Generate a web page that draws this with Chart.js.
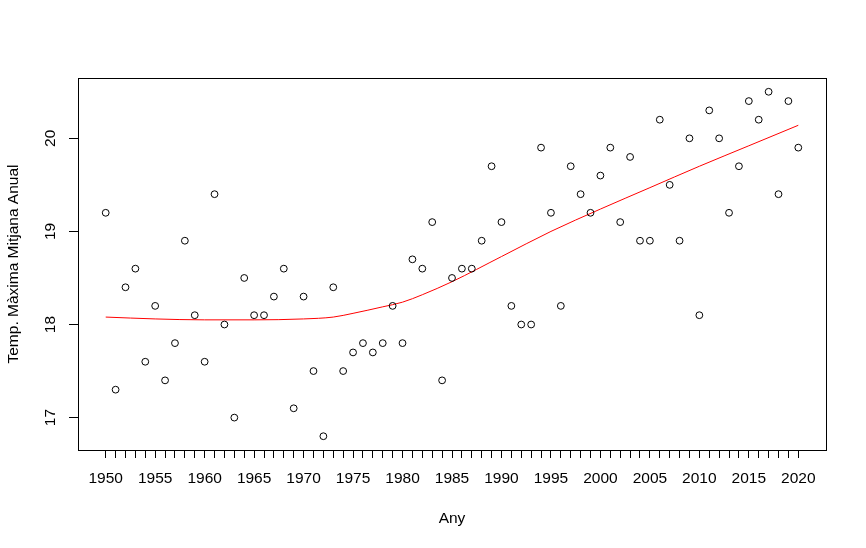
<!DOCTYPE html>
<html>
<head>
<meta charset="utf-8">
<script src="https://cdn.jsdelivr.net/npm/chart.js@4/dist/chart.umd.min.js"></script>
<style>
  html, body { margin: 0; padding: 0; background: #ffffff; }
  #wrap { width: 866px; height: 548px; }
</style>
</head>
<body>
<div id="wrap"><canvas id="c" width="866" height="548"></canvas></div>
<script>
const years = [];
for (let y = 1950; y <= 2020; y++) years.push(y);

const tempMax = [
  19.2, 17.3, 18.4, 18.6, 17.6, 18.2, 17.4, 17.8, 18.9, 18.1,
  17.6, 19.4, 18.0, 17.0, 18.5, 18.1, 18.1, 18.3, 18.6, 17.1,
  18.3, 17.5, 16.8, 18.4, 17.5, 17.7, 17.8, 17.7, 17.8, 18.2,
  17.8, 18.7, 18.6, 19.1, 17.4, 18.5, 18.6, 18.6, 18.9, 19.7,
  19.1, 18.2, 18.0, 18.0, 19.9, 19.2, 18.2, 19.7, 19.4, 19.2,
  19.6, 19.9, 19.1, 19.8, 18.9, 18.9, 20.2, 19.5, 18.9, 20.0,
  18.1, 20.3, 20.0, 19.2, 19.7, 20.4, 20.2, 20.5, 19.4, 20.4,
  19.9
];

const smoothYears = [1950, 1955, 1960, 1965, 1970, 1973, 1975, 1978, 1980, 1982, 1985, 1990, 1995, 2000, 2005, 2010, 2015, 2020];
const smoothVals  = [18.08, 18.06, 18.05, 18.05, 18.06, 18.08, 18.12, 18.19, 18.24, 18.32, 18.46, 18.73, 19.00, 19.24, 19.47, 19.70, 19.92, 20.14];

const xTickYears = years;
const yTickValues = [17, 18, 19, 20];

const xMin = 1947.2, xMax = 2022.8;
const yMin = 16.652, yMax = 20.648;

const FONT = '"Liberation Sans", Arial, sans-serif';

const boxPlugin = {
  id: 'box',
  afterDraw(chart) {
    const a = chart.chartArea, ctx = chart.ctx;
    ctx.save();
    ctx.strokeStyle = '#000';
    ctx.lineWidth = 1;
    ctx.strokeRect(Math.round(a.left) + 0.5, Math.round(a.top) + 0.5,
                   Math.round(a.right - a.left), Math.round(a.bottom - a.top));
    ctx.restore();
  }
};

new Chart(document.getElementById('c'), {
  type: 'scatter',
  data: {
    datasets: [
      {
        label: 'Temp',
        data: years.map((y, i) => ({ x: y, y: tempMax[i] })),
        pointStyle: 'circle',
        pointRadius: 3.4,
        pointBorderWidth: 1,
        pointBorderColor: '#000',
        pointBackgroundColor: 'rgba(0,0,0,0)',
        showLine: false
      },
      {
        label: 'Loess',
        type: 'line',
        data: smoothYears.map((y, i) => ({ x: y, y: smoothVals[i] })),
        borderColor: '#ff0000',
        borderWidth: 1,
        pointRadius: 0,
        tension: 0.4,
        cubicInterpolationMode: 'monotone',
        fill: false
      }
    ]
  },
  options: {
    responsive: false,
    animation: false,
    devicePixelRatio: 1,
    layout: { padding: { left: 0, top: 78, right: 40, bottom: 0 } },
    plugins: { legend: { display: false }, tooltip: { enabled: false } },
    scales: {
      x: {
        type: 'linear',
        min: xMin, max: xMax,
        afterBuildTicks: s => { s.ticks = xTickYears.map(v => ({ value: v })); },
        afterFit: s => { s.height = 98; },
        grid: { drawOnChartArea: false, drawTicks: true, tickLength: 8, color: '#000', tickColor: '#000' },
        border: { display: true, color: '#000', width: 1 },
        ticks: {
          autoSkip: false, maxRotation: 0, minRotation: 0,
          color: '#000', padding: 11,
          font: { family: FONT, size: 15.5 },
          callback: v => (v % 5 === 0 ? String(v) : '')
        },
        title: {
          display: true, text: 'Any', color: '#000',
          font: { family: FONT, size: 15.5 },
          padding: { top: 0, bottom: 20 }
        }
      },
      y: {
        type: 'linear',
        min: yMin, max: yMax,
        afterBuildTicks: s => { s.ticks = yTickValues.map(v => ({ value: v })); },
        afterFit: s => { s.width = 78; },
        grid: { drawOnChartArea: false, drawTicks: true, tickLength: 9, color: '#000', tickColor: '#000' },
        border: { display: true, color: '#000', width: 1 },
        ticks: {
          color: '#000', padding: 10,
          minRotation: 90, maxRotation: 90,
          crossAlign: 'center',
          font: { family: FONT, size: 15.5 },
          callback: v => String(v)
        },
        title: {
          display: true, text: 'Temp. Màxima Mitjana Anual', color: '#000',
          font: { family: FONT, size: 15.5 },
          padding: { top: 4, bottom: 0 }
        }
      }
    }
  },
  plugins: [boxPlugin]
});
</script>
</body>
</html>
